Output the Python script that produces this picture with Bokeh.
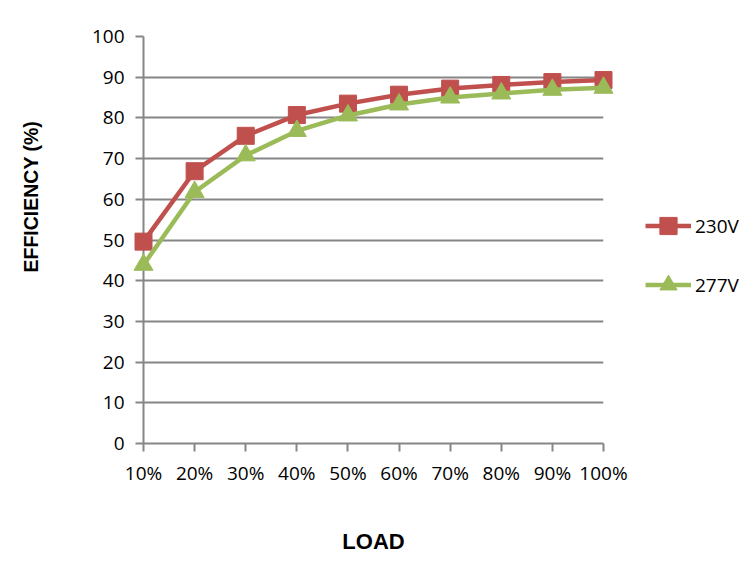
from bokeh.plotting import figure
from bokeh.models import FixedTicker, Range1d, Legend, LegendItem, ColumnDataSource
from bokeh.embed import file_html
from bokeh.resources import INLINE

loads = ["10%", "20%", "30%", "40%", "50%", "60%", "70%", "80%", "90%", "100%"]
eff_230v = [49.6, 66.9, 75.6, 80.7, 83.5, 85.7, 87.2, 88.1, 88.8, 89.3]
eff_277v = [43.9, 61.8, 70.8, 76.8, 80.6, 83.3, 85.0, 86.0, 86.9, 87.4]
y_ticks = [0, 10, 20, 30, 40, 50, 60, 70, 80, 90, 100]
y_title = "EFFICIENCY (%)"

x_idx = list(range(len(loads)))
src = ColumnDataSource(dict(x=x_idx, a=eff_230v, b=eff_277v))

p = figure(frame_width=460, frame_height=407, output_backend="svg", toolbar_location=None,
           x_range=Range1d(0, len(loads) - 1), y_range=Range1d(0, 100),
           min_border_left=143, min_border_right=149, min_border_top=36,
           min_border_bottom=128)
p.outline_line_color = None
p.background_fill_color = "white"
p.border_fill_color = "white"

GRID = "#868686"
p.xgrid.grid_line_color = None
p.ygrid.ticker = FixedTicker(ticks=y_ticks)
p.ygrid.grid_line_color = GRID
p.ygrid.grid_line_width = 2

for ax in (p.xaxis[0], p.yaxis[0]):
    ax.axis_line_color = GRID
    ax.axis_line_width = 2
    ax.major_tick_line_color = GRID
    ax.major_tick_line_width = 2
    ax.major_tick_out = 8
    ax.major_tick_in = 0
    ax.minor_tick_line_color = None
    ax.major_label_text_font = "Open Sans"
    ax.major_label_text_font_size = "19px"
    ax.major_label_text_color = "#000000"
    ax.axis_label_text_font = "Liberation Sans"
    ax.axis_label_text_font_style = "bold"
    ax.axis_label_text_color = "#000000"

p.xaxis.ticker = FixedTicker(ticks=x_idx)
p.xaxis.major_label_overrides = {i: s for i, s in enumerate(loads)}
p.xaxis.major_label_standoff = 8
p.xaxis.axis_label = "LOAD"
p.xaxis.axis_label_text_font_size = "22px"
p.xaxis.axis_label_standoff = 40

p.yaxis.ticker = FixedTicker(ticks=y_ticks)
p.yaxis.major_label_standoff = 11
# leading no-break spaces lift the centred title to where the reference has it
p.yaxis.axis_label = "\u00a0" * 16 + y_title
p.yaxis.axis_label_text_font_size = "19.5px"
p.yaxis.axis_label_standoff = 47

RED = "#C0504D"
GREEN = "#9BBB59"

l1 = p.line("x", "a", source=src, line_color=RED, line_width=4.5)
s1 = p.scatter("x", "a", source=src, marker="square", size=17,
               fill_color=RED, line_color=RED)
l2 = p.line("x", "b", source=src, line_color=GREEN, line_width=4.5)
s2 = p.scatter("x", "b", source=src, marker="triangle", size=19,
               fill_color=GREEN, line_color=GREEN)
for r in (l1, s1, l2, s2):
    r.level = "overlay"

legend = Legend(items=[LegendItem(label="230V", renderers=[l1, s1]),
                       LegendItem(label="277V", renderers=[l2, s2])],
                location=(42, 137), orientation="vertical",
                glyph_width=46, glyph_height=43, spacing=16,
                label_standoff=4, padding=0, margin=0,
                border_line_color=None, background_fill_alpha=0,
                label_text_font="Open Sans", label_text_font_size="19px",
                label_text_color="#000000")
p.add_layout(legend, "right")

open("out.html", "w").write(file_html(p, INLINE))
